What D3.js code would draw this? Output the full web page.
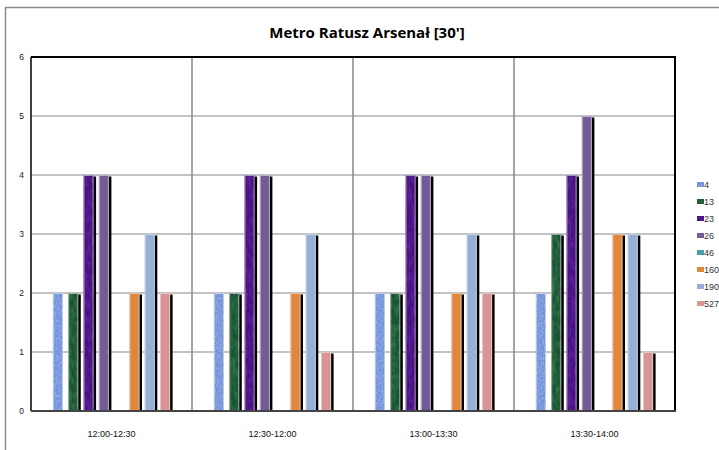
<!DOCTYPE html>
<html>
<head>
<meta charset="utf-8">
<script src="https://cdn.jsdelivr.net/npm/d3@7/dist/d3.min.js"></script>
<style>
  html, body { margin: 0; padding: 0; background: #fff; }
  svg { display: block; }
</style>
</head>
<body>
<svg id="chart" width="719" height="450"></svg>
<script>
const title = "Metro Ratusz Arsenał [30']";
const categories = ["12:00-12:30", "12:30-12:00", "13:00-13:30", "13:30-14:00"];
const seriesNames = ["4", "13", "23", "26", "46", "160", "190", "527"];
const s4   = [2, 2, 2, 2];
const s13  = [2, 2, 2, 3];
const s23  = [4, 4, 4, 4];
const s26  = [4, 4, 4, 5];
const s46  = [0, 0, 0, 0];
const s160 = [2, 2, 2, 3];
const s190 = [3, 3, 3, 3];
const s527 = [2, 1, 2, 1];
const yTicks = [0, 1, 2, 3, 4, 5, 6];
const seriesValues = [s4, s13, s23, s26, s46, s160, s190, s527];
const colors = ["#6f90da", "#1f5234", "#46137e", "#735b96", "#45a0ae", "#e0873e", "#96afd6", "#d99595"];
const textured = [true, true, true, false, false, false, false, false];
const shadowed = [false, true, true, true, true, true, true, true];

const svg = d3.select("#chart");
const defs = svg.append("defs");

// texture filters
function addTexture(id, freq, light, gain, bias) {
  const f = defs.append("filter").attr("id", "f" + id).attr("x", 0).attr("y", 0).attr("width", 1).attr("height", 1);
  f.append("feTurbulence").attr("type", "fractalNoise").attr("baseFrequency", freq).attr("numOctaves", 3).attr("seed", 3).attr("result", "noise");
  f.append("feColorMatrix").attr("in", "noise").attr("type", "matrix")
    .attr("values", `0 0 0 0 1  0 0 0 0 1  0 0 0 0 1  ${gain} 0 0 0 ${bias}`).attr("result", "spots");
  f.append("feFlood").attr("flood-color", light).attr("result", "lc");
  f.append("feComposite").attr("in", "lc").attr("in2", "spots").attr("operator", "in").attr("result", "lspots");
  f.append("feComposite").attr("in", "lspots").attr("in2", "SourceGraphic").attr("operator", "in").attr("result", "clipped");
  f.append("feMerge").call(m => { m.append("feMergeNode").attr("in", "SourceGraphic"); m.append("feMergeNode").attr("in", "clipped"); });
}
addTexture(0, "0.9 0.4", "#a9c2ef", 1.4, -0.5);
addTexture(1, "0.25 0.12", "#3b7a4f", 1.6, -0.55);
addTexture(2, "0.25 0.12", "#6526a3", 1.6, -0.55);

const plot = { left: 31, top: 57, right: 675, bottom: 411 };

// outer frame
svg.append("rect").attr("x", 5.5).attr("y", 7.5).attr("width", 900).attr("height", 700)
  .attr("fill", "#fff").attr("stroke", "#8c8c8c").attr("stroke-width", 1.5);

svg.append("text").attr("x", 367).attr("y", 38).attr("text-anchor", "middle")
  .attr("font-family", "Open Sans, Liberation Sans, sans-serif").attr("font-weight", "bold")
  .attr("font-size", 15).attr("fill", "#000").text(title);

const x0 = d3.scaleBand().domain(categories).range([plot.left, plot.right]).padding(0);
const x1 = d3.scaleBand().domain(seriesNames).range([0, x0.bandwidth()]).paddingInner(0.34).paddingOuter(1.43);
const y = d3.scaleLinear().domain([0, 6]).range([plot.bottom, plot.top]);

// gridlines
svg.append("g").selectAll("line").data(yTicks.filter(t => t > 0 && t < 6)).join("line")
  .attr("x1", plot.left).attr("x2", plot.right)
  .attr("y1", d => y(d)).attr("y2", d => y(d))
  .attr("stroke", "#878787").attr("stroke-width", 1.2);

// category separators
svg.append("g").selectAll("line").data(categories.slice(1)).join("line")
  .attr("x1", d => x0(d)).attr("x2", d => x0(d))
  .attr("y1", plot.top).attr("y2", plot.bottom)
  .attr("stroke", "#878787").attr("stroke-width", 1.5);

// bars
const barData = [];
categories.forEach((c, ci) => seriesNames.forEach((s, si) => barData.push({ c, s, si, v: seriesValues[si][ci] })));
const bars = svg.append("g");
bars.selectAll("rect.sh").data(barData.filter(d => shadowed[d.si] && d.v > 0)).join("rect")
  .attr("class", "sh")
  .attr("x", d => x0(d.c) + x1(d.s) + 2.5)
  .attr("y", d => y(d.v) + 1.5)
  .attr("width", x1.bandwidth())
  .attr("height", d => y(0) - y(d.v) - 1.5)
  .attr("fill", "#000");
bars.selectAll("rect.bar").data(barData.filter(d => d.v > 0)).join("rect")
  .attr("class", "bar")
  .attr("x", d => x0(d.c) + x1(d.s))
  .attr("y", d => y(d.v))
  .attr("width", x1.bandwidth())
  .attr("height", d => y(0) - y(d.v))
  .attr("fill", d => colors[d.si])
  .attr("filter", d => textured[d.si] ? `url(#f${d.si})` : null);
bars.selectAll("rect.edge").data(barData.filter(d => d.v > 0)).join("rect")
  .attr("class", "edge")
  .attr("x", d => x0(d.c) + x1(d.s) + 0.5)
  .attr("y", d => y(d.v) + 0.5)
  .attr("width", x1.bandwidth() - 1)
  .attr("height", d => y(0) - y(d.v) - 1)
  .attr("fill", "none").attr("stroke", "#e8e8e8").attr("stroke-width", 1).attr("stroke-opacity", 0.6);

// plot borders
svg.append("line").attr("x1", plot.left).attr("x2", plot.right + 1).attr("y1", plot.top).attr("y2", plot.top).attr("stroke", "#000").attr("stroke-width", 2);
svg.append("line").attr("x1", plot.right).attr("x2", plot.right).attr("y1", plot.top).attr("y2", plot.bottom).attr("stroke", "#000").attr("stroke-width", 2);
svg.append("line").attr("x1", plot.left).attr("x2", plot.left).attr("y1", plot.top).attr("y2", plot.bottom).attr("stroke", "#000").attr("stroke-width", 1.5);
svg.append("line").attr("x1", plot.left).attr("x2", plot.right + 1).attr("y1", plot.bottom).attr("y2", plot.bottom).attr("stroke", "#444").attr("stroke-width", 2);

// y axis labels
const yAxis = d3.axisLeft(y).tickValues(yTicks).tickSize(0).tickPadding(7).tickFormat(d3.format("d"));
const ya = svg.append("g").attr("transform", `translate(${plot.left},0)`).call(yAxis);
ya.select(".domain").remove();
ya.selectAll("text").attr("font-family", "Liberation Sans, sans-serif").attr("font-size", 8.5).attr("fill", "#222");

// x axis labels
const xAxis = d3.axisBottom(x0).tickSize(0).tickPadding(20);
const xa = svg.append("g").attr("transform", `translate(0,${plot.bottom})`).call(xAxis);
xa.select(".domain").remove();
xa.selectAll("text").attr("font-family", "Liberation Sans Narrow, Liberation Sans, sans-serif").attr("font-size", 9).attr("fill", "#111");

// legend
const lg = svg.append("g").selectAll("g").data(seriesNames).join("g")
  .attr("transform", (d, i) => `translate(697,${185 + i * 17})`);
lg.append("rect").attr("x", 0).attr("y", -3).attr("width", 7).attr("height", 5)
  .attr("fill", (d, i) => colors[i]).attr("filter", (d, i) => textured[i] ? `url(#f${i})` : null);
lg.append("text").attr("x", 7).attr("y", 3).attr("font-family", "Liberation Sans, sans-serif")
  .attr("font-size", 9).attr("fill", "#333").text(d => d);
</script>
</body>
</html>
